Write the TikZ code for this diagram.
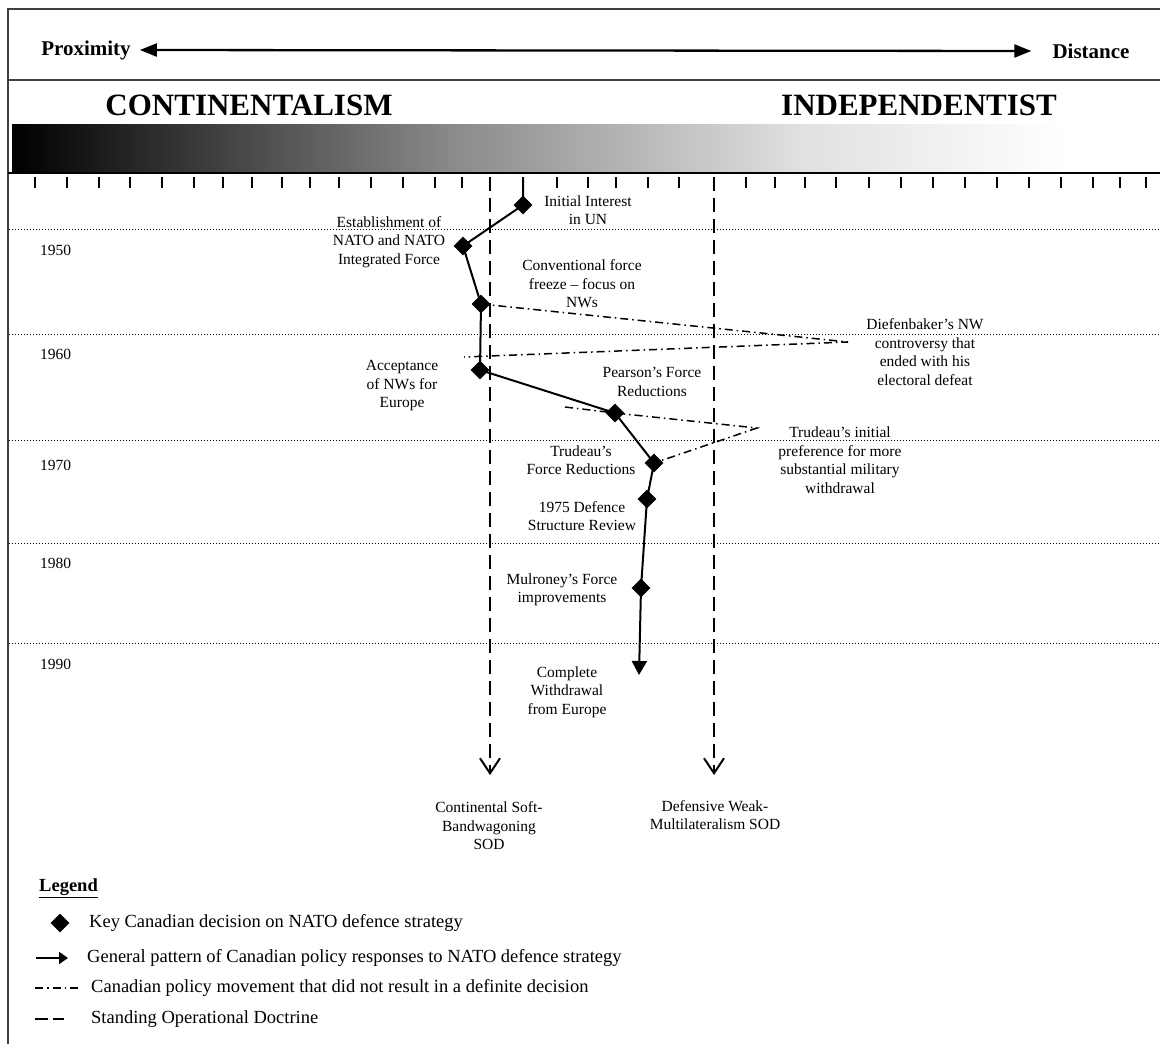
\documentclass[tikz,border=0pt]{standalone}
\usepackage{fontspec}
\setmainfont{Liberation Serif}
\usetikzlibrary{arrows.meta,shapes.geometric}
\begin{document}
\begin{tikzpicture}[x=1pt,y=-1pt,
  lbl/.style={align=center, font=\fontsize{15.5}{18.5}\selectfont, inner sep=0pt},
  yr/.style={anchor=west, font=\fontsize{15.5}{18.5}\selectfont, inner sep=0pt},
  leg/.style={anchor=west, font=\fontsize{18.5}{22}\selectfont, inner sep=0pt},
  head/.style={font=\bfseries\fontsize{21}{25}\selectfont, inner sep=0pt},
  big/.style={font=\bfseries\fontsize{31}{36}\selectfont, inner sep=0pt},
  dec/.style={diamond, fill=black, inner sep=0pt, minimum width=19pt, minimum height=19pt},
  pathline/.style={line width=2pt},
  doctrine/.style={line width=2.5pt, dash pattern=on 14pt off 7pt},
  undecided/.style={line width=1.5pt, dash pattern=on 8pt off 4pt on 1.5pt off 4pt},
  decade/.style={line width=1pt, dash pattern=on 1pt off 2pt},
  tickmark/.style={line width=1.5pt},
  frame/.style={line width=1.8pt, draw=black!75}
]
\useasboundingbox (0,0) rectangle (1160,1044);
\fill[white] (0,0) rectangle (1160,1044);

% frame
\draw[frame] (1160,9) -- (8,9) -- (8,1044);
\draw[frame] (8,80) -- (1160,80);

% header
\node[head] (prox) at (86,50) {Proximity};
\node[head] (dist) at (1091,51) {Distance};
\draw[line width=2.3pt, {Triangle[length=17pt,width=13pt]}-{Triangle[length=17pt,width=13pt]}]
  ([xshift=9pt]prox.east) -- ([xshift=-21pt]dist.west);

\node[big] (cont) at (249,105) {CONTINENTALISM};
\node[big] (indep) at (919,105) {INDEPENDENTIST};

% gradient bar
\shade[left color=black, right color=black!46] (12,124) rectangle (451,173);
\shade[left color=black!46, right color=black!12] (450,124) rectangle (801,173);
\shade[left color=black!12, right color=white] (800,124) rectangle (1065,173);
\draw[line width=2.5pt] (8,173) -- (1160,173);

% ticks
\foreach \x in {35,67,99,130,162,194,223,252,282,310,339,371,403,435,462,557,588,616,648,679,746,775,805,836,869,901,933,965,997,1029,1061,1093,1120,1146}
  \draw[tickmark] (\x,177) -- (\x,188);

% decade lines and years
\foreach \y in {229,334,440,543,643}
  \draw[decade] (9,\y) -- (1160,\y);
\node[yr] (y50) at (40,250) {1950};
\node[yr] (y60) at (40,354) {1960};
\node[yr] (y70) at (40,465) {1970};
\node[yr] (y80) at (40,563) {1980};
\node[yr] (y90) at (40,664) {1990};

% standing operational doctrine lines
\coordinate (sA) at (490,177);
\coordinate (eA) at (490,775);
\coordinate (sB) at (714,177);
\coordinate (eB) at (714,775);
\draw[doctrine, -{Straight Barb[length=15pt,width=20pt,line width=2pt]}] (sA) -- (eA);
\draw[doctrine, -{Straight Barb[length=15pt,width=20pt,line width=2pt]}] (sB) -- (eB);

% decisions
\coordinate (start) at (523,177);
\node[dec] (d1) at (523,205) {};
\node[dec] (d2) at (463,246) {};
\node[dec] (d3) at (481,304) {};
\node[dec] (d4) at (480,370) {};
\node[dec] (d5) at (615,413) {};
\node[dec] (d6) at (654,463) {};
\node[dec] (d7) at (647,499) {};
\node[dec] (d8) at (641,588) {};
\coordinate (tip) at (639,675);

\draw[pathline] (start) -- (d1.center) -- (d2.center) -- (d3.center) -- (d4.center)
  -- (d5.center) -- (d6.center) -- (d7.center) -- (d8.center);
\draw[pathline, -{Triangle[length=14pt,width=15pt]}] (d8.center) -- (tip);

% undecided movements
\coordinate (dief1) at (848,342);
\coordinate (dief2) at (464,357);
\draw[undecided] (d3.center) -- (dief1) -- (dief2);
\coordinate (pear0) at (565,407);
\coordinate (trud1) at (757,428);
\draw[undecided] (pear0) -- (d5.center) -- (trud1) -- (d6.center);

% labels
\node[lbl] (l1) at (588,210) {Initial Interest\\in UN};
\node[lbl] (l2) at (389,242) {Establishment of\\NATO and NATO\\Integrated Force};
\node[lbl] (l3) at (582,284) {Conventional force\\freeze – focus on\\NWs};
\node[lbl] (l4) at (402,386) {Acceptance\\of NWs for\\Europe};
\node[lbl] (l5) at (652,382) {Pearson’s Force\\Reductions};
\node[lbl] (l6) at (925,352) {Diefenbaker’s NW\\controversy that\\ended with his\\electoral defeat};
\node[lbl] (l7) at (581,460) {Trudeau’s\\Force Reductions};
\node[lbl] (l8) at (840,460) {Trudeau’s initial\\preference for more\\substantial military\\withdrawal};
\node[lbl] (l9) at (582,516) {1975 Defence\\Structure Review};
\node[lbl] (l10) at (562,590) {Mulroney’s Force\\improvements};
\node[lbl] (l11) at (567,692) {Complete\\Withdrawal\\from Europe};
\node[lbl] (l12) at (489,826) {Continental Soft-\\Bandwagoning\\SOD};
\node[lbl] (l13) at (715,815) {Defensive Weak-\\Multilateralism SOD};

% legend
\node[leg, font=\bfseries\fontsize{18.5}{22}\selectfont] (legt) at (39,888) {\underline{Legend}};
\node[dec] (ld) at (60,923) {};
\node[leg] (lt1) at (89,923) {Key Canadian decision on NATO defence strategy};
\coordinate (la0) at (36,958);
\coordinate (la1) at (68,958);
\draw[pathline, -{Triangle[length=9pt,width=12pt]}] (la0) -- (la1);
\node[leg] (lt2) at (87,958) {General pattern of Canadian policy responses to NATO defence strategy};
\coordinate (lu0) at (35,988);
\coordinate (lu1) at (80,988);
\draw[undecided] (lu0) -- (lu1);
\node[leg] (lt3) at (91,988) {Canadian policy movement that did not result in a definite decision};
\coordinate (ls0) at (35,1019);
\coordinate (ls1) at (64,1019);
\draw[line width=2pt, dash pattern=on 13pt off 5pt] (ls0) -- (ls1);
\node[leg] (lt4) at (91,1019) {Standing Operational Doctrine};
\end{tikzpicture}
\end{document}
